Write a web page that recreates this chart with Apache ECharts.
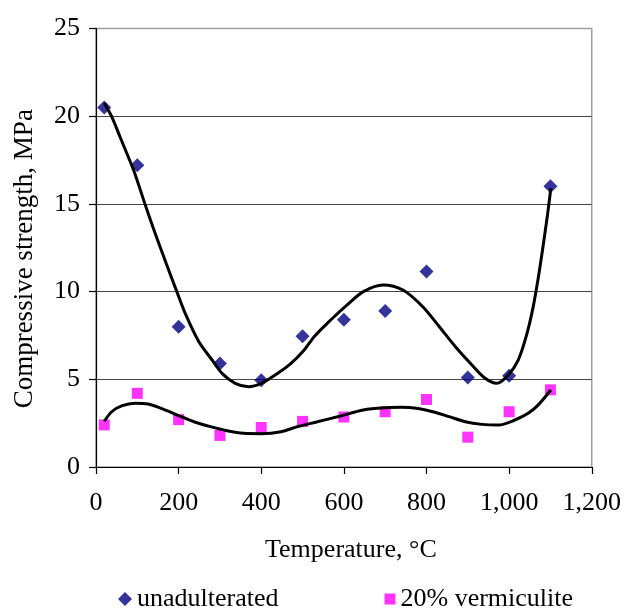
<!DOCTYPE html>
<html>
<head>
<meta charset="utf-8">
<script src="https://cdn.jsdelivr.net/npm/echarts@6/dist/echarts.min.js"></script>
<style>
html,body{margin:0;padding:0;background:#fff;}
#c{width:624px;height:608px;}
</style>
</head>
<body>
<div id="c"></div>
<script>
// Measured data
var temps = [20, 100, 200, 300, 400, 500, 600, 700, 800, 900, 1000, 1100];
var unadulterated = [20.5, 17.2, 8.0, 5.9, 4.95, 7.45, 8.4, 8.9, 11.15, 5.1, 5.2, 16.0];
var vermiculite = [2.4, 4.2, 2.7, 1.8, 2.25, 2.6, 2.85, 3.15, 3.85, 1.7, 3.15, 4.4];

// Trend curves
var trendUnadX = [20, 38, 58, 78, 94, 118, 142, 170, 194, 217, 249, 281, 305, 337, 369, 400, 440, 472, 504, 528, 568, 608, 647, 695, 743, 791, 831, 870, 910, 942, 970, 998, 1022, 1042, 1058, 1070, 1081, 1093, 1101];
var trendUnadY = [20.75, 19.97, 18.83, 17.69, 16.74, 15.03, 13.4, 11.6, 10.1, 8.7, 7.14, 6.1, 5.34, 4.77, 4.58, 4.77, 5.34, 5.91, 6.67, 7.43, 8.38, 9.24, 10.0, 10.38, 10.09, 9.14, 8.0, 6.86, 5.82, 5.06, 4.77, 5.25, 6.1, 7.5, 9.1, 10.7, 12.4, 14.4, 15.9];
var trendVermX = [20, 38, 62, 94, 126, 158, 197, 237, 277, 317, 357, 400, 448, 488, 536, 592, 647, 703, 740, 775, 815, 855, 894, 934, 974, 1014, 1046, 1070, 1101];
var trendVermY = [2.6, 3.15, 3.48, 3.63, 3.59, 3.34, 2.96, 2.58, 2.3, 2.07, 1.92, 1.9, 2.01, 2.3, 2.58, 2.91, 3.25, 3.38, 3.4, 3.35, 3.15, 2.87, 2.58, 2.43, 2.39, 2.68, 3.06, 3.53, 4.39];

var yTicks = [0, 5, 10, 15, 20, 25];
var xTicks = [0, 200, 400, 600, 800, 1000, 1200];

function zip(a, b) { return a.map(function (v, i) { return [v, b[i]]; }); }

var FONT = "'Liberation Serif', 'Times New Roman', serif";
var chart = echarts.init(document.getElementById('c'), null, {renderer: 'canvas'});
chart.setOption({
  animation: false,
  backgroundColor: '#fff',
  textStyle: {fontFamily: FONT, color: '#000'},
  grid: {left: 96, right: 26, top: 28.5, bottom: 141, show: true, borderColor: '#a0a0a0', borderWidth: 1.5, backgroundColor: 'transparent'},
  xAxis: {
    type: 'value', min: xTicks[0], max: xTicks[xTicks.length - 1], interval: 200,
    name: 'Temperature, \u00B0C', nameLocation: 'middle', nameGap: 70,
    nameTextStyle: {fontFamily: FONT, fontSize: 26, color: '#000', padding: [0, 0, 0, 14]},
    axisLine: {show: true, onZero: false, lineStyle: {color: '#000', width: 1.2}},
    axisTick: {show: true, inside: false, length: 7, lineStyle: {color: '#000', width: 1.2}},
    axisLabel: {fontFamily: FONT, fontSize: 26, color: '#000', margin: 23,
      formatter: function (v) { return v.toLocaleString('en-US'); }},
    splitLine: {show: false}
  },
  yAxis: {
    type: 'value', min: yTicks[0], max: yTicks[yTicks.length - 1], interval: 5,
    name: 'Compressive strength, MPa', nameLocation: 'middle', nameGap: 58,
    nameTextStyle: {fontFamily: FONT, fontSize: 27, color: '#000', padding: [0, 22, 0, 0]},
    axisLine: {show: true, onZero: false, lineStyle: {color: '#000', width: 1.2}},
    axisTick: {show: true, inside: false, length: 7, lineStyle: {color: '#000', width: 1.2}},
    axisLabel: {fontFamily: FONT, fontSize: 26, color: '#000', margin: 16},
    splitLine: {show: true, showMaxLine: false, lineStyle: {color: '#444', width: 1}}
  },
  legend: [
    {data: [{name: 'unadulterated', icon: 'diamond'}], left: 113, top: 580, itemWidth: 14, itemHeight: 14, itemGap: 0,
     textStyle: {fontFamily: FONT, fontSize: 26, color: '#000', lineHeight: 28}},
    {data: [{name: '20% vermiculite', icon: 'rect'}], left: 379.5, top: 580, itemWidth: 11, itemHeight: 11, itemGap: 0,
     textStyle: {fontFamily: FONT, fontSize: 26, color: '#000', lineHeight: 28}}
  ],
  series: [
    {name: 'trendU', type: 'line', data: zip(trendUnadX, trendUnadY), smooth: 0.3, showSymbol: false, symbol: 'none',
     lineStyle: {color: '#000', width: 3}, z: 3, silent: true},
    {name: 'trendV', type: 'line', data: zip(trendVermX, trendVermY), smooth: 0.3, showSymbol: false, symbol: 'none',
     lineStyle: {color: '#000', width: 3}, z: 3, silent: true},
    {name: 'unadulterated', type: 'scatter', data: zip(temps, unadulterated), symbol: 'diamond', symbolSize: 14,
     itemStyle: {color: '#000080'}, z: 2},
    {name: '20% vermiculite', type: 'scatter', data: zip(temps, vermiculite), symbol: 'rect', symbolSize: 11,
     itemStyle: {color: '#ff00ff'}, z: 2}
  ]
});
</script>
</body>
</html>
